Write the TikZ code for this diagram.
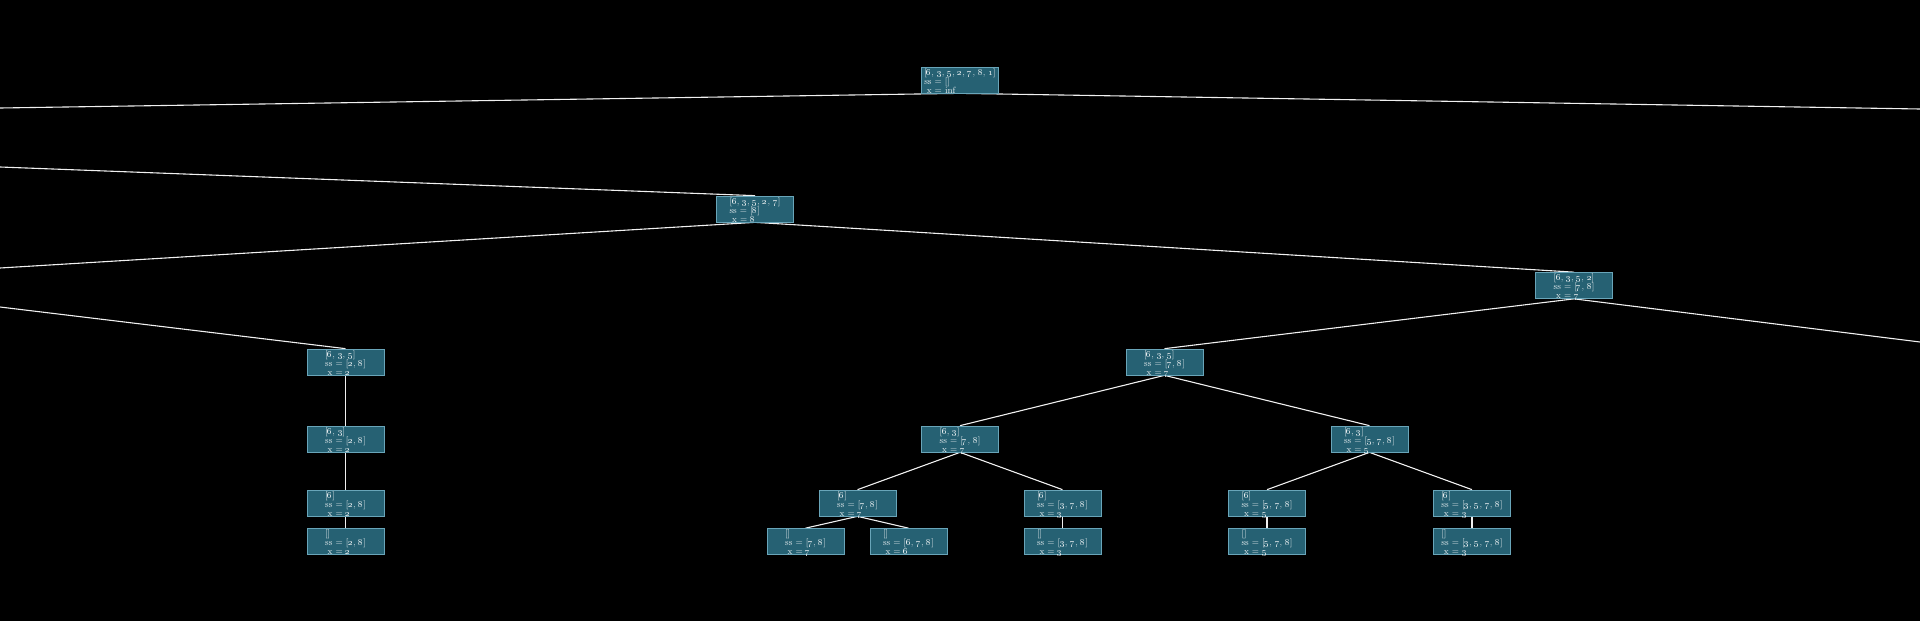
\documentclass[tikz,border=0pt]{standalone}
\usetikzlibrary{backgrounds}
\definecolor{boxfill}{RGB}{38,97,115}
\definecolor{boxdraw}{RGB}{105,165,185}
\definecolor{edgecol}{RGB}{240,240,240}
\definecolor{txtcol}{RGB}{232,238,240}
\newcommand\dg[1]{\oldstylenums{#1}}
\newcommand\tx[3]{\raisebox{5pt}[0pt][0pt]{\fontsize{9}{8.7}\selectfont\begin{tabular}[t]{@{}l@{}}#1\\ss = #2\\\hspace{2.5pt}x = #3\end{tabular}}}
\tikzset{
  tn/.style={rectangle, draw=boxdraw, fill=boxfill, line width=0.7pt, inner sep=0pt,
    minimum width=77pt, minimum height=26pt, text=txtcol},
  edge/.style={draw=edgecol, line width=1.1pt}
}
\begin{document}
\begin{tikzpicture}[x=1pt,y=-1pt]
\useasboundingbox (0,0) rectangle (1920,621);
% off-canvas ends
\coordinate (oL1) at (0,108);
\coordinate (oR1) at (1920,109);
\coordinate (oL2) at (0,167);
\coordinate (oL3) at (0,268);
\coordinate (oL4) at (0,307);
\coordinate (oR2) at (1920,342);
% nodes
\node[tn] (root) at (960,80) {\tx{[\dg6, \dg3, \dg5, \dg2, \dg7, \dg8, \dg1]}{[]}{inf}};
\node[tn] (n1) at (755,209) {\tx{[\dg6, \dg3, \dg5, \dg2, \dg7]}{[\dg8]}{\dg8}};
\node[tn] (n2) at (1574,285.5) {\tx{[\dg6, \dg3, \dg5, \dg2]}{[\dg7, \dg8]}{\dg7}};
\node[tn] (L1) at (345.5,362) {\tx{[\dg6, \dg3, \dg5]}{[\dg2, \dg8]}{\dg2}};
\node[tn] (L2) at (345.5,439) {\tx{[\dg6, \dg3]}{[\dg2, \dg8]}{\dg2}};
\node[tn] (L3) at (345.5,503.5) {\tx{[\dg6]}{[\dg2, \dg8]}{\dg2}};
\node[tn] (L4) at (345.5,541.5) {\tx{[]}{[\dg2, \dg8]}{\dg2}};
\node[tn] (R1) at (1164.5,362) {\tx{[\dg6, \dg3, \dg5]}{[\dg7, \dg8]}{\dg7}};
\node[tn] (A) at (960,439) {\tx{[\dg6, \dg3]}{[\dg7, \dg8]}{\dg7}};
\node[tn] (B) at (1369.5,439) {\tx{[\dg6, \dg3]}{[\dg5, \dg7, \dg8]}{\dg5}};
\node[tn] (A1) at (857.5,503) {\tx{[\dg6]}{[\dg7, \dg8]}{\dg7}};
\node[tn] (A2) at (1062.5,503) {\tx{[\dg6]}{[\dg3, \dg7, \dg8]}{\dg3}};
\node[tn] (A11) at (805.5,541.5) {\tx{[]}{[\dg7, \dg8]}{\dg7}};
\node[tn] (A12) at (908.5,541.5) {\tx{[]}{[\dg6, \dg7, \dg8]}{\dg6}};
\node[tn] (A21) at (1062.5,541.5) {\tx{[]}{[\dg3, \dg7, \dg8]}{\dg3}};
\node[tn] (B1) at (1267,503) {\tx{[\dg6]}{[\dg5, \dg7, \dg8]}{\dg5}};
\node[tn] (B2) at (1472,503) {\tx{[\dg6]}{[\dg3, \dg5, \dg7, \dg8]}{\dg3}};
\node[tn] (B11) at (1267,541.5) {\tx{[]}{[\dg5, \dg7, \dg8]}{\dg5}};
\node[tn] (B21) at (1472,541.5) {\tx{[]}{[\dg3, \dg5, \dg7, \dg8]}{\dg3}};
% background and edges (behind nodes)
\begin{scope}[on background layer]
\fill[black] (0,0) rectangle (1920,621);
\draw[edge] (root.south) -- (oL1);
\draw[edge] (root.south) -- (oR1);
\draw[edge] (oL2) -- (n1.north);
\draw[edge] (n1.south) -- (oL3);
\draw[edge] (n1.south) -- (n2.north);
\draw[edge] (oL4) -- (L1.north);
\draw[edge] (L1.south) -- (L2.north);
\draw[edge] (L2.south) -- (L3.north);
\draw[edge] (L3.south) -- (L4.north);
\draw[edge] (n2.south) -- (R1.north);
\draw[edge] (n2.south) -- (oR2);
\draw[edge] (R1.south) -- (A.north);
\draw[edge] (R1.south) -- (B.north);
\draw[edge] (A.south) -- (A1.north);
\draw[edge] (A.south) -- (A2.north);
\draw[edge] (A1.south) -- (A11.north);
\draw[edge] (A1.south) -- (A12.north);
\draw[edge] (A2.south) -- (A21.north);
\draw[edge] (B.south) -- (B1.north);
\draw[edge] (B.south) -- (B2.north);
\draw[edge] (B1.south) -- (B11.north);
\draw[edge] (B2.south) -- (B21.north);
\end{scope}
\end{tikzpicture}
\end{document}
